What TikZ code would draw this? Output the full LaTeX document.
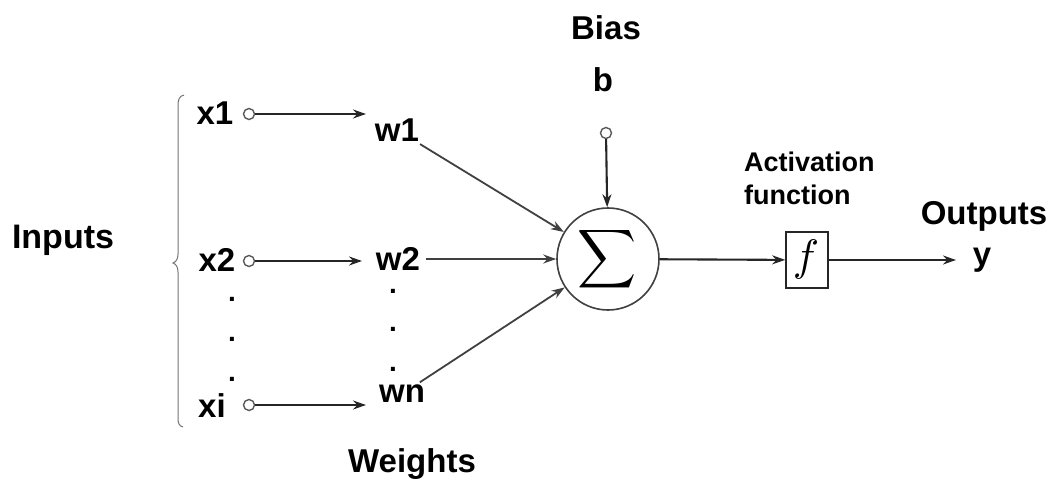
\documentclass[tikz,border=0pt]{standalone}
\usepackage{fontspec}
\setmainfont{Liberation Sans}
\usetikzlibrary{arrows.meta}
\begin{document}
\begin{tikzpicture}[x=1pt,y=-1pt,
  lbl/.style={font=\fontsize{33}{35}\selectfont\bfseries, inner sep=1pt},
  dotlbl/.style={font=\fontsize{28}{28}\selectfont\bfseries, inner sep=0pt},
  pin/.style={circle, draw=black!65, line width=1.4pt, minimum size=11pt, inner sep=0pt},
  conn/.style={draw=black!85, line width=2.1pt, -{Stealth[length=13pt,width=9pt]}},
  wline/.style={draw=black!75, line width=1.8pt, -{Stealth[length=13pt,width=9pt]}, shorten <=3pt}]
\useasboundingbox (0,0) rectangle (1052,484);
% labels
\node[lbl] (bias) at (606,28) {Bias};
\node[lbl] (b) at (603,80) {b};
\node[pin] (bc) at (606,133) {};
\node[circle, draw=black!75, line width=1.6pt, minimum size=102pt, inner sep=0pt] (sum) at (608,259) {};
\node[scale=4.1] (sig) at (607,259) {$\displaystyle\sum$};
\node[draw=black!85, line width=1.6pt, minimum width=42pt, minimum height=56pt, inner sep=0pt] (f) at (807,260) {};
\node[scale=4.4] (fl) at (806,259) {$f$};
\node[font=\fontsize{27}{33}\selectfont\bfseries, align=left, anchor=west, inner sep=0pt] (act) at (744,178) {Activation\\function};
\node[lbl] (out) at (984,216) {Outputs};
\node[lbl] (y) at (982,260) {y};
\node[font=\fontsize{34}{36}\selectfont\bfseries] (inputs) at (63,240) {Inputs};
\node[lbl] (weights) at (412,464) {Weights};
% inputs
\node[lbl] (x1) at (215,113) {x1};
\node[lbl] (x2) at (217,260) {x2};
\node[lbl] (xi) at (212,406) {xi};
\node[pin] (c1) at (249,114) {};
\node[pin] (c2) at (249,261) {};
\node[pin] (ci) at (249,405) {};
\node[lbl] (w1) at (397,130) {w1};
\node[lbl, inner sep=0pt] (w2) at (398,259) {w2};
\node[lbl] (wn) at (402,394) {wn};
\coordinate (e1) at (366,114);
\coordinate (e2) at (362,261);
\coordinate (ei) at (366,405);
\draw[conn] (c1) -- (e1);
\draw[conn] (c2) -- (e2);
\draw[conn] (ci) -- (ei);
\draw[wline] (w1) -- (sum);
\draw[wline, shorten <=6pt] (w2) -- (sum);
\draw[wline] (wn) -- (sum);
\draw[conn] (bc) -- (sum);
\draw[conn] (sum) -- (f);
\coordinate (oe) at (956,260);
\draw[conn] (f) -- (oe);
% dots
\foreach \n/\yy in {a/299,b/339,c/379}{\node[dotlbl] (dx\n) at (232,\yy) {.};}
\foreach \n/\yy in {a/291,b/329,c/369}{\node[dotlbl] (dw\n) at (393,\yy) {.};}
% brace
\draw[black!55, line width=1pt] (184,95) .. controls (179,96) and (178,100) .. (178,106) -- (178,254) .. controls (178,259) and (176,262) .. (173,263) .. controls (176,264) and (178,267) .. (178,272) -- (178,418) .. controls (178,423) and (179,426) .. (183,427);
\end{tikzpicture}
\end{document}
